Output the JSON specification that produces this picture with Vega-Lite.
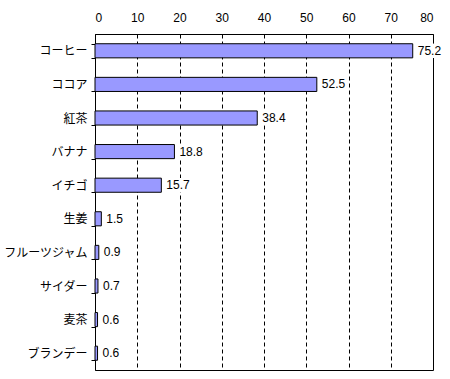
{
  "$schema": "https://vega.github.io/schema/vega-lite/v6.json",
  "autosize": {"type": "none"},
  "width": 338,
  "height": 336,
  "padding": {"left": 95, "top": 34, "right": 17, "bottom": 9},
  "background": "white",
  "config": {
    "view": {"stroke": "black", "strokeWidth": 1},
    "font": "Noto Sans CJK JP"
  },
  "data": {
    "values": [
      {"item": "コーヒー", "value": 75.2},
      {"item": "ココア", "value": 52.5},
      {"item": "紅茶", "value": 38.4},
      {"item": "バナナ", "value": 18.8},
      {"item": "イチゴ", "value": 15.7},
      {"item": "生姜", "value": 1.5},
      {"item": "フルーツジャム", "value": 0.9},
      {"item": "サイダー", "value": 0.7},
      {"item": "麦茶", "value": 0.6},
      {"item": "ブランデー", "value": 0.6}
    ]
  },
  "encoding": {
    "y": {
      "field": "item",
      "type": "nominal",
      "sort": null,
      "scale": {"paddingInner": 0.58, "paddingOuter": 0.29},
      "axis": {
        "title": null,
        "tickBand": "extent",
        "tickSize": 4,
        "tickColor": "black",
        "domainColor": "black",
        "labelFontSize": 12,
        "labelColor": "black",
        "labelPadding": 4,
        "labelFont": "Noto Sans CJK JP"
      }
    },
    "x": {
      "field": "value",
      "type": "quantitative",
      "scale": {"domain": [0, 80], "nice": false},
      "axis": {
        "orient": "top",
        "title": null,
        "values": [0, 10, 20, 30, 40, 50, 60, 70, 80],
        "ticks": false,
        "domain": false,
        "labelPadding": 10,
        "labelFontSize": 12,
        "labelColor": "black",
        "labelFont": "Liberation Sans",
        "grid": true,
        "gridColor": "black",
        "gridDash": [4, 3],
        "gridOpacity": 1
      }
    }
  },
  "layer": [
    {
      "mark": {"type": "bar", "fill": "#9999FF", "stroke": "black", "strokeWidth": 1}
    },
    {
      "mark": {"type": "point", "shape": "M-1,-0.6H1V0.6H-1Z", "size": 576, "filled": true, "color": "white", "opacity": 1, "strokeWidth": 0, "xOffset": 16}
    },
    {
      "mark": {"type": "text", "align": "left", "baseline": "middle", "dx": 5, "fontSize": 12, "font": "Liberation Sans", "color": "black"},
      "encoding": {"text": {"field": "value", "type": "quantitative", "format": ".1f"}}
    }
  ]
}
